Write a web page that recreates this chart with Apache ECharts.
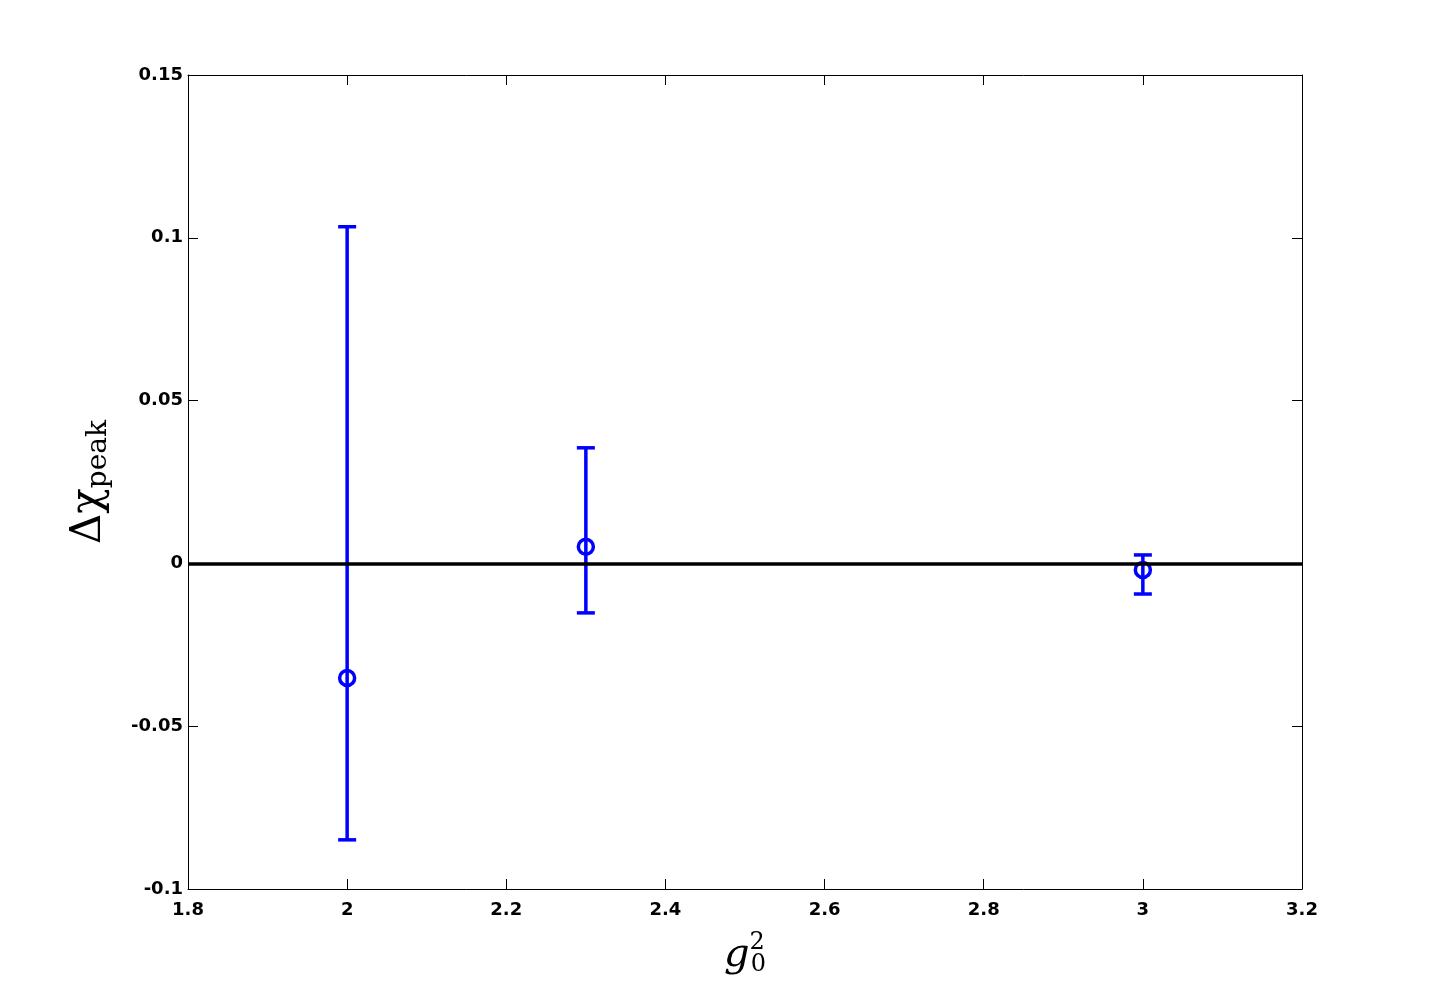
<!DOCTYPE html>
<html>
<head>
<meta charset="utf-8">
<script src="https://cdn.jsdelivr.net/npm/echarts@6/dist/echarts.min.js"></script>
<style>
  html, body { margin: 0; padding: 0; background: #fff; }
  #chart { width: 1440px; height: 1000px; }
</style>
</head>
<body>
<div id="chart"></div>
<script>
// g0^2 values and measured delta chi peak with error bounds
var gValues = [2.0, 2.3, 3.0];
var chiValues = [-0.0352, 0.0051, -0.0020];
var chiLow = [-0.0849, -0.0152, -0.0094];
var chiHigh = [0.1034, 0.0355, 0.0026];

var xTicks = [1.8, 2, 2.2, 2.4, 2.6, 2.8, 3, 3.2];
var yTicks = [-0.1, -0.05, 0, 0.05, 0.1, 0.15];

var blue = '#0000ff';

var myChart = echarts.init(document.getElementById('chart'));

var errData = gValues.map(function (g, i) {
  return [g, chiLow[i], chiHigh[i]];
});

var tickFont = {
  color: '#000',
  fontFamily: 'DejaVu Sans',
  fontWeight: 'bold',
  fontSize: 18
};

var option = {
  animation: false,
  backgroundColor: '#fff',
  grid: { left: 188, right: 138, top: 75, bottom: 111 },
  xAxis: [
    {
      type: 'value',
      min: 1.8,
      max: 3.2,
      interval: 0.2,
      name: '{g|g}{sup|2}{sub|0}',
      nameLocation: 'middle',
      nameGap: 42,
      nameTextStyle: {
        rich: {
          g: { fontFamily: 'DejaVu Serif', fontStyle: 'italic', fontSize: 40, color: '#000', lineHeight: 50 },
          sup: { fontFamily: 'DejaVu Serif', fontSize: 24, color: '#000', padding: [0, 0, 26, 0] },
          sub: { fontFamily: 'DejaVu Serif', fontSize: 24, color: '#000', padding: [18, 0, 0, -14] }
        }
      },
      axisLine: { onZero: false, lineStyle: { color: '#000', width: 1 } },
      axisTick: { inside: true, length: 10, lineStyle: { color: '#000' } },
      axisLabel: Object.assign({ margin: 12, formatter: function (v) { return xTicks.indexOf(+v.toFixed(1)) >= 0 ? String(+v.toFixed(1)) : ''; } }, tickFont),
      splitLine: { show: false }
    },
    {
      type: 'value',
      position: 'top',
      min: 1.8,
      max: 3.2,
      interval: 0.2,
      axisLine: { onZero: false, lineStyle: { color: '#000', width: 1 } },
      axisTick: { inside: true, length: 10, lineStyle: { color: '#000' } },
      axisLabel: { show: false },
      splitLine: { show: false }
    }
  ],
  yAxis: [
    {
      type: 'value',
      min: -0.1,
      max: 0.15,
      interval: 0.05,
      name: '{d|Δχ}{sub|peak}',
      nameLocation: 'middle',
      nameRotate: 90,
      nameGap: 74,
      nameTextStyle: {
        rich: {
          d: { fontFamily: 'DejaVu Serif', fontSize: 42, color: '#000', lineHeight: 50 },
          sub: { fontFamily: 'DejaVu Serif', fontSize: 28, color: '#000', padding: [20, 0, 0, 0] }
        }
      },
      axisLine: { onZero: false, lineStyle: { color: '#000', width: 1 } },
      axisTick: { inside: true, length: 10, lineStyle: { color: '#000' } },
      axisLabel: Object.assign({
        margin: 5,
        formatter: function (v) {
          var r = Math.round(v * 100) / 100;
          return yTicks.indexOf(r) >= 0 ? String(r) : '';
        }
      }, tickFont),
      splitLine: { show: false }
    },
    {
      type: 'value',
      position: 'right',
      min: -0.1,
      max: 0.15,
      interval: 0.05,
      axisLine: { onZero: false, lineStyle: { color: '#000', width: 1 } },
      axisTick: { inside: true, length: 10, lineStyle: { color: '#000' } },
      axisLabel: { show: false },
      splitLine: { show: false }
    }
  ],
  series: [
    {
      type: 'custom',
      name: 'error',
      xAxisIndex: 0,
      yAxisIndex: 0,
      data: errData,
      encode: { x: 0, y: [1, 2] },
      z: 3,
      renderItem: function (params, api) {
        var lo = api.coord([api.value(0), api.value(1)]);
        var hi = api.coord([api.value(0), api.value(2)]);
        var half = 9;
        var style = { stroke: blue, lineWidth: 3.5, fill: null };
        return {
          type: 'group',
          children: [
            { type: 'line', shape: { x1: lo[0], y1: lo[1], x2: hi[0], y2: hi[1] }, style: style },
            { type: 'line', shape: { x1: lo[0] - half, y1: lo[1], x2: lo[0] + half, y2: lo[1] }, style: style },
            { type: 'line', shape: { x1: hi[0] - half, y1: hi[1], x2: hi[0] + half, y2: hi[1] }, style: style }
          ]
        };
      }
    },
    {
      type: 'scatter',
      name: 'chi',
      xAxisIndex: 0,
      yAxisIndex: 0,
      data: gValues.map(function (g, i) { return [g, chiValues[i]]; }),
      symbol: 'circle',
      symbolSize: 15,
      z: 4,
      itemStyle: { color: 'rgba(0,0,0,0)', borderColor: blue, borderWidth: 3.5, opacity: 1 },
      markLine: {
        silent: true,
        symbol: 'none',
        label: { show: false },
        lineStyle: { color: '#000', width: 3.5, type: 'solid' },
        data: [{ yAxis: 0 }]
      }
    }
  ]
};

myChart.setOption(option);
</script>
</body>
</html>
